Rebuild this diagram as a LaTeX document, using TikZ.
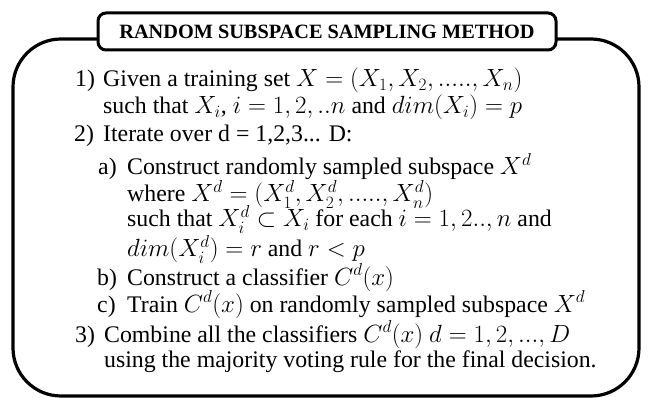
\documentclass[tikz,border=0pt]{standalone}
\usepackage{amsmath}
\usepackage{fontspec}
\setmainfont{Liberation Serif}
\usepackage{tikz}
\usetikzlibrary{positioning,calc}

\begin{document}
\begin{tikzpicture}[x=1pt, y=-1pt,
    frame/.style={line width=3.2pt, rounded corners=48pt},
    titlebox/.style={draw, fill=white, line width=3pt, rounded corners=8pt},
    txt/.style={anchor=base west, inner sep=0pt, font=\fontsize{23.8}{28}\selectfont},
    num/.style={txt}]
    \useasboundingbox (0,0) rectangle (648,398);

    % Outer frame
    \draw[frame] (13,39) rectangle (639,396);
    % Title
    \node[titlebox, minimum width=458pt, minimum height=37pt, inner sep=0pt,
          font=\fontsize{20.3}{22}\selectfont\bfseries] (title) at (327,31.5)
          {RANDOM SUBSPACE SAMPLING METHOD};

    % Step 1
    \node[num] (n1) at (75,87) {1)};
    \node[txt] (s1a) at (103,87) {Given a training set $X = (X_1, X_2, ....., X_n)$};
    \node[txt] (s1b) at (103,114) {such that $X_i$, $i = 1, 2, ..n$ and $dim(X_i) = p$};
    % Step 2
    \node[num] (n2) at (74,142) {2)};
    \node[txt] (s2) at (103,142) {Iterate over d = 1,2,3... D:};
    \node[num] (na) at (98,175) {a)};
    \node[txt] (sa1) at (127,175) {Construct randomly sampled subspace $X^d$};
    \node[txt] (sa2) at (127,202) {where $X^d = (X^d_1, X^d_2, ....., X^d_n)$};
    \node[txt] (sa3) at (127,227) {such that $X^d_i \subset X_i$ for each $i = 1, 2.., n$ and};
    \node[txt] (sa4) at (127,257) {$dim(X^d_i) = r$ and $r < p$};
    \node[num] (nb) at (97,285) {b)};
    \node[txt] (sb) at (127,285) {Construct a classifier $C^d(x)$};
    \node[num] (nc) at (97,312) {c)};
    \node[txt] (sc) at (127,312) {Train $C^d(x)$ on randomly sampled subspace $X^d$};
    % Step 3
    \node[num] (n3) at (75,342) {3)};
    \node[txt] (s3a) at (104,342) {Combine all the classifiers $C^d(x)$ $d = 1, 2, ..., D$};
    \node[txt] (s3b) at (104,367) {using the majority voting rule for the final decision.};
\end{tikzpicture}
\end{document}
